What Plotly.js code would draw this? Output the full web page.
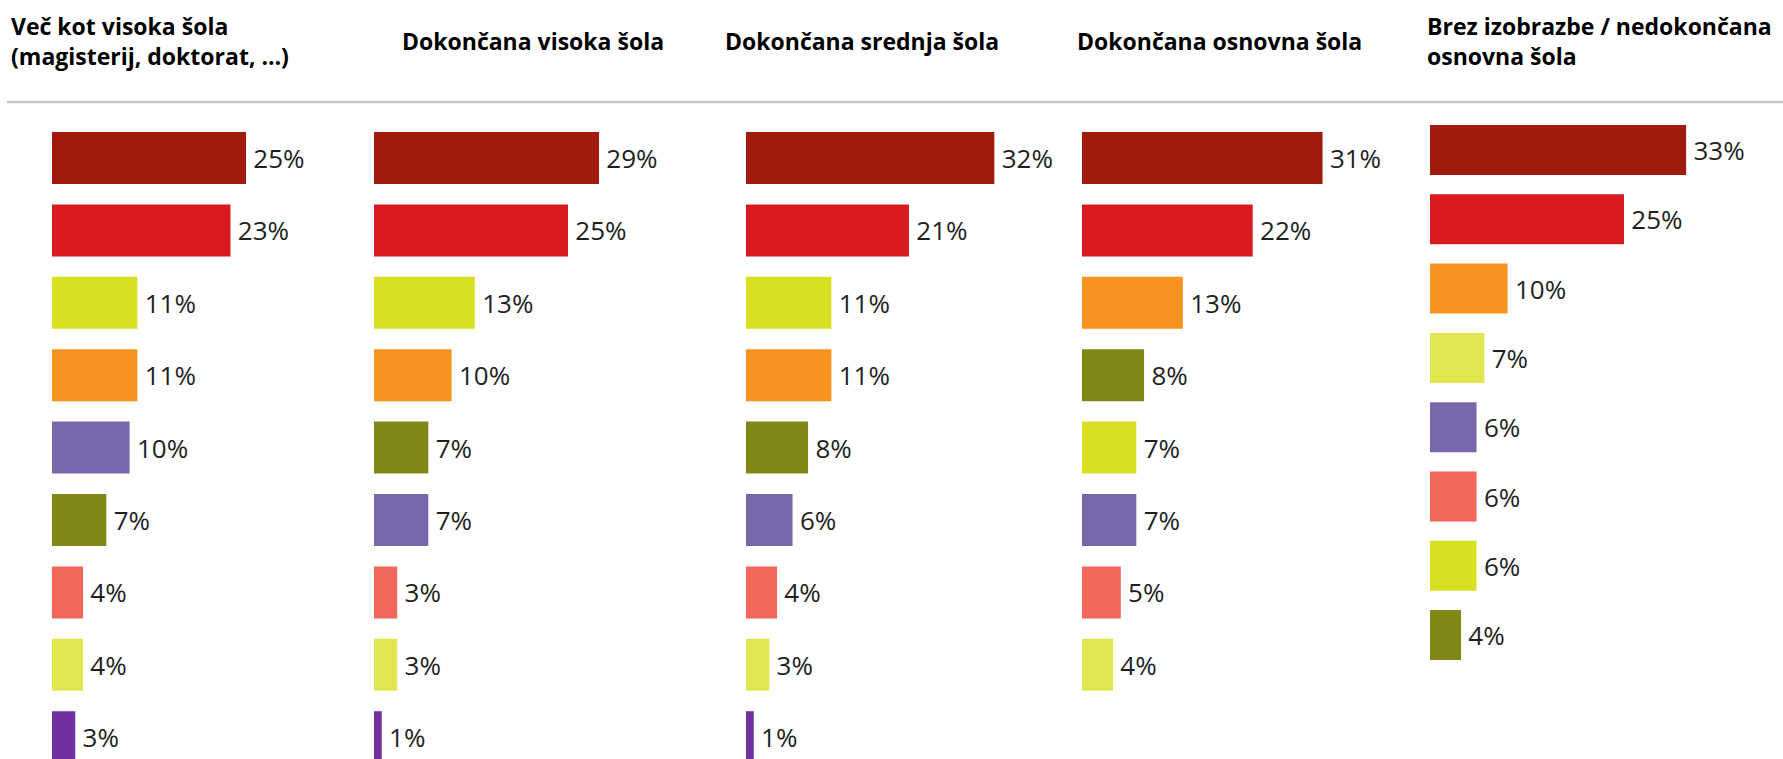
<!DOCTYPE html>
<html>
<head>
<meta charset="utf-8">
<script src="https://cdn.plot.ly/plotly-3.0.1.min.js"></script>
<style>html,body{margin:0;padding:0;background:#fff;}#chart{width:1783px;height:759px;}</style>
</head>
<body>
<div id="chart"></div>
<script>
// Panel titles
const panelTitles = [
  'Več kot visoka šola<br>(magisterij, doktorat, …)',
  'Dokončana visoka šola',
  'Dokončana srednja šola',
  'Dokončana osnovna šola',
  'Brez izobrazbe / nedokončana<br>osnovna šola'
];

// Answer categories (not labelled in the chart) and their colours
const categoryColors = {
  kat1: '#A11A0E',
  kat2: '#D91A21',
  kat3: '#D7E021',
  kat4: '#F6941F',
  kat5: '#7868AB',
  kat6: '#838715',
  kat7: '#F2675A',
  kat8: '#E0E64E',
  kat9: '#7030A0'
};

// Per-panel categories (top to bottom) and values in %
const cats1 = ['kat1','kat2','kat3','kat4','kat5','kat6','kat7','kat8','kat9'];
const vals1 = [25, 23, 11, 11, 10, 7, 4, 4, 3];

const cats2 = ['kat1','kat2','kat3','kat4','kat6','kat5','kat7','kat8','kat9'];
const vals2 = [29, 25, 13, 10, 7, 7, 3, 3, 1];

const cats3 = ['kat1','kat2','kat3','kat4','kat6','kat5','kat7','kat8','kat9'];
const vals3 = [32, 21, 11, 11, 8, 6, 4, 3, 1];

const cats4 = ['kat1','kat2','kat4','kat6','kat3','kat5','kat7','kat8'];
const vals4 = [31, 22, 13, 8, 7, 7, 5, 4];

const cats5 = ['kat1','kat2','kat4','kat8','kat5','kat7','kat3','kat6'];
const vals5 = [33, 25, 10, 7, 6, 6, 6, 4];

const panels = [
  {cats: cats1, vals: vals1},
  {cats: cats2, vals: vals2},
  {cats: cats3, vals: vals3},
  {cats: cats4, vals: vals4},
  {cats: cats5, vals: vals5}
];

// ---- layout geometry (pixels) ----
const W = 1783, H = 759;
const pxPerPct = 7.76;
const panelLeft = [52, 374, 746, 1082, 1430];
const panelWidth = 300;
const titleLeft = [9, 400, 723, 1075, 1425];
// row geometry: first-row centre and row pitch
const rowGeom = [
  {c0: 158, pitch: 72.4, w: 0.718},
  {c0: 158, pitch: 72.4, w: 0.718},
  {c0: 158, pitch: 72.4, w: 0.718},
  {c0: 158, pitch: 72.4, w: 0.718},
  {c0: 150, pitch: 69.3, w: 0.722}
];

const traces = [];
const layout = {
  width: W, height: H,
  margin: {l: 0, r: 0, t: 0, b: 0, pad: 0},
  paper_bgcolor: '#ffffff', plot_bgcolor: 'rgba(0,0,0,0)',
  showlegend: false,
  font: {family: 'Open Sans, sans-serif', color: '#1f1f1f'},
  annotations: [],
  shapes: [{
    type: 'line', xref: 'paper', yref: 'paper',
    x0: 7 / W, x1: 1, y0: 1 - 102 / H, y1: 1 - 102 / H,
    line: {color: '#c8c8c8', width: 2.5}
  }]
};

panels.forEach((p, i) => {
  const n = i + 1;
  const xa = n === 1 ? 'x' : 'x' + n;
  const ya = n === 1 ? 'y' : 'y' + n;
  traces.push({
    type: 'bar', orientation: 'h',
    x: p.vals, y: p.cats,
    xaxis: xa, yaxis: ya,
    width: rowGeom[i].w,
    marker: {color: p.cats.map(c => categoryColors[c]), line: {width: 0}},
    texttemplate: '\u2009%{x}%',
    textposition: 'outside',
    cliponaxis: false,
    constraintext: 'none',
    textfont: {family: 'Open Sans, sans-serif', size: 26, color: '#1f1f1f'},
    hoverinfo: 'skip'
  });
  const x0 = panelLeft[i];
  layout['xaxis' + (n === 1 ? '' : n)] = {
    domain: [x0 / W, (x0 + panelWidth) / W],
    range: [0, panelWidth / pxPerPct],
    anchor: ya,
    showgrid: false, zeroline: false, showticklabels: false, showline: false, ticks: ''
  };
  const g = rowGeom[i];
  const top = -g.c0 / g.pitch;
  const bottom = (H - g.c0) / g.pitch;
  layout['yaxis' + (n === 1 ? '' : n)] = {
    domain: [0, 1],
    type: 'category',
    categoryorder: 'array', categoryarray: p.cats,
    range: [bottom, top],
    anchor: xa,
    showgrid: false, zeroline: false, showticklabels: false, showline: false, ticks: ''
  };
  layout.annotations.push({
    text: panelTitles[i],
    xref: 'paper', yref: 'paper',
    x: titleLeft[i] / W, y: 1 - 41 / H,
    xanchor: 'left', yanchor: 'middle', align: 'left',
    showarrow: false,
    font: {family: 'Open Sans, sans-serif', size: 23, color: '#000000', weight: 700}
  });
});

Plotly.newPlot('chart', traces, layout, {staticPlot: true, displayModeBar: false});
</script>
</body>
</html>
